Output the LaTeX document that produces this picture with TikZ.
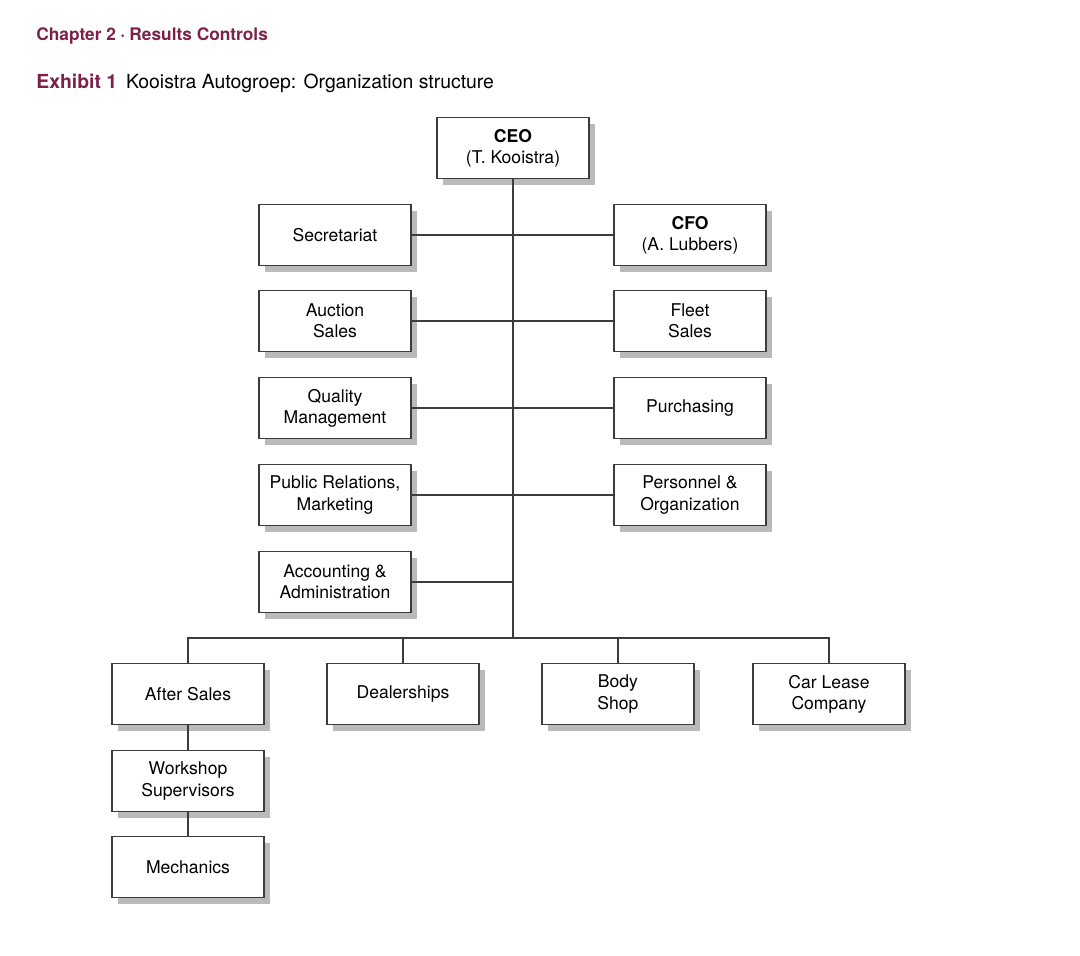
\documentclass[tikz,border=0pt]{standalone}
\usepackage{fontspec}
\setmainfont{TeX Gyre Heros}
\usepackage{tikz}
\usetikzlibrary{positioning, shadows}
\definecolor{exhibitred}{RGB}{125,33,75}
\definecolor{lineGray}{RGB}{60,60,60}
\tikzstyle{unit} = [rectangle,
minimum width=3.04cm,
minimum height=1.22cm,
text centered,
align=center,
font=\fontsize{10}{12}\selectfont,
draw=lineGray, line width=0.6pt,
fill=white,
drop shadow={shadow xshift=0.12cm, shadow yshift=-0.13cm, fill=black!27, opacity=1}]
\tikzstyle{link} = [lineGray, line width=0.6pt]

\begin{document}
\begin{tikzpicture}[x=0.02cm, y=-0.02cm]
                \useasboundingbox (0,0) rectangle (1080,956);
                % titles
                \node (chapter) [anchor=base west, inner sep=0pt, text=exhibitred, font=\fontsize{9.85}{11}\selectfont\bfseries] at (36,41) {Chapter 2\hspace{0.25em}\textperiodcentered\hspace{0.25em}Results Controls};
                \node (exhibit) [anchor=base west, inner sep=0pt, font=\fontsize{11.05}{13}\selectfont] at (36,89) {\textcolor{exhibitred}{\bfseries Exhibit 1}\hspace{0.45em}Kooistra Autogroep: Organization structure};

                \node (ceo) [unit] at (513,148) {\textbf{CEO}\\(T. Kooistra)};
                \node (secr) [unit] at (335,235) {Secretariat};
                \node (cfo) [unit] at (690,235) {\textbf{CFO}\\(A. Lubbers)};
                \node (auction) [unit] at (335,321) {Auction\\Sales};
                \node (fleet) [unit] at (690,321) {Fleet\\Sales};
                \node (quality) [unit] at (335,408) {Quality\\Management};
                \node (purch) [unit] at (690,408) {Purchasing};
                \node (pr) [unit] at (335,495) {Public Relations,\\Marketing};
                \node (personnel) [unit] at (690,495) {Personnel \&\\Organization};
                \node (acc) [unit] at (335,582) {Accounting \&\\Administration};

                \node (after) [unit] at (188,694) {After Sales};
                \node (dealer) [unit] at (403,694) {Dealerships};
                \node (body) [unit] at (618,694) {Body\\Shop};
                \node (lease) [unit] at (829,694) {Car Lease\\Company};
                \node (workshop) [unit, below=0.5cm of after] {Workshop\\Supervisors};
                \node (mech) [unit, below=0.48cm of workshop] {Mechanics};

                \coordinate (hub) at (513,638);

                \draw [link] (ceo) -- (hub);
                \draw [link] (secr) -- (cfo);
                \draw [link] (auction) -- (fleet);
                \draw [link] (quality) -- (purch);
                \draw [link] (pr) -- (personnel);
                \draw [link] (acc.east) -- (acc.east -| hub);
                \draw [link] (after.north) |- (hub) -| (lease.north);
                \draw [link] (dealer.north) -- (dealer.north |- hub);
                \draw [link] (body.north) -- (body.north |- hub);
                \draw [link] (after) -- (workshop);
                \draw [link] (workshop) -- (mech);
            \end{tikzpicture}
\end{document}
